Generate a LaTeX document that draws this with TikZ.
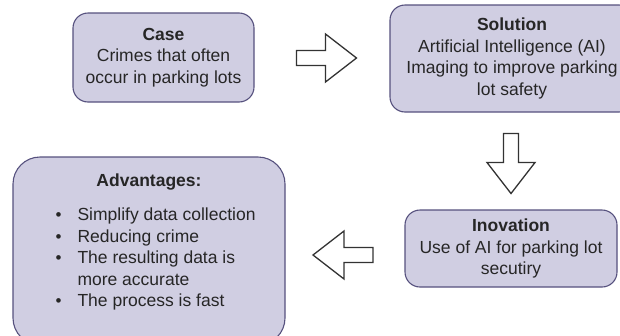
\documentclass[tikz,border=0pt]{standalone}
\usepackage{fontspec}
\setmainfont{Liberation Sans}
\usetikzlibrary{positioning}

\definecolor{boxfill}{HTML}{D0CEE2}
\definecolor{boxline}{HTML}{56517E}
\definecolor{arrowgray}{HTML}{333333}

% bullet for the list lines
\newcommand{\bul}{\llap{{\fontsize{17}{17}\selectfont\textbullet}\hspace{16pt}}}

\begin{document}
\begin{tikzpicture}[
  x=1pt, y=-1pt,
  every node/.style={font=\fontsize{17.5}{21.5}\selectfont, text=black!85},
  card/.style={draw=boxline, fill=boxfill, line width=1.1pt, rounded corners=15pt, align=center, inner sep=0pt},
  bigcard/.style={card, rounded corners=27pt},
  arrowline/.style={draw=arrowgray, fill=white, line width=1.3pt, line join=miter},
  fatarrow/.pic={\path[arrowline] (-30,7.5) -- (-1,7.5) -- (-1,24) -- (30,0) -- (-1,-24) -- (-1,-7.5) -- (-30,-7.5) -- cycle;}
]
\clip (0,0) rectangle (620,335);

% Boxes
\node[card, minimum width=181pt, minimum height=89pt] (case) at (163.5,57.5)
  {\textbf{Case}\\Crimes that often\\occur in parking lots};
\node[card, minimum width=244pt, minimum height=107pt] (solution) at (512,58.5)
  {\textbf{Solution}\\Artificial Intelligence (AI)\\Imaging to improve parking\\lot safety};
\node[card, minimum width=212pt, minimum height=77pt] (inovation) at (511,248.5)
  {\textbf{Inovation}\\Use of AI for parking lot\\secutiry};
\node[bigcard, minimum width=272pt, minimum height=188pt] (adv) at (149,251) {};

% Text inside the big box
\node (advtitle) at (149,182) {\textbf{Advantages:}};
\node[anchor=west, align=left] (advlist) at (74,259)
  {\bul Simplify data collection\\
   \bul Reducing crime\\
   \bul The resulting data is\\
   more accurate\\
   \bul The process is fast};

% Block arrows between the boxes
\pic at (326.5,58) {fatarrow};
\pic[rotate=-90] at (511,163.5) {fatarrow};
\pic[rotate=180] at (343,255) {fatarrow};

\end{tikzpicture}
\end{document}
